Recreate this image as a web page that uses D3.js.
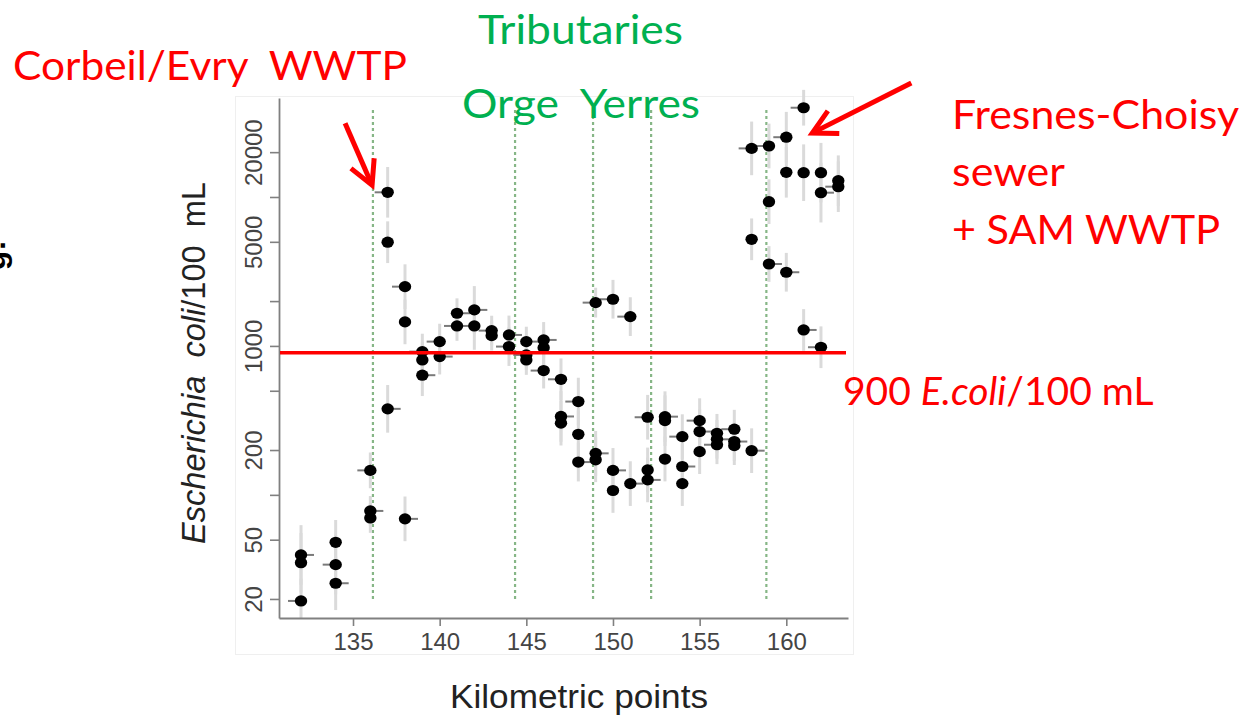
<!DOCTYPE html>
<meta charset="utf-8">
<style>
  body { margin: 0; background: #fff; }
  svg { display: block; }
  text { white-space: pre; }
</style>
<body>
<script src="https://cdn.jsdelivr.net/npm/d3@7"></script>
<script>

    // sampling points along the river (kilometric point)
    var km = [132, 132, 132, 134, 134, 134, 136, 136, 136, 137, 137, 137,
        138, 138, 138, 139, 139, 139, 140, 140, 141, 141, 142, 142,
        143, 143, 144, 144, 145, 145, 145, 146, 146, 146, 147, 147, 147,
        148, 148, 148, 149, 149, 149, 150, 150, 150, 151, 151,
        152, 152, 152, 153, 153, 153, 154, 154, 154, 155, 155, 155,
        156, 156, 156, 157, 157, 157, 158, 158, 158, 159, 159, 159,
        160, 160, 160, 161, 161, 161, 162, 162, 162, 163, 163];

    // E. coli / 100 mL
    var ecoli = [39.5, 35, 19.4, 48, 34, 25.5, 146, 78, 70, 10750, 4970, 378,
        2500, 1450, 69, 916, 805, 636, 1069, 848, 1657, 1362, 1745, 1362,
        1267, 1172, 1185, 990, 1069, 870, 805, 1097, 974, 683, 597, 336, 303,
        423, 255, 166, 1953, 190, 172, 2058, 146, 107, 1573, 119,
        332, 147, 126, 335, 315, 174, 246, 155, 119, 315, 266, 195,
        259, 236, 217, 276, 228, 214, 21200, 5200, 198, 22000, 9300, 3550,
        25200, 14650, 3124, 39750, 14560, 1280, 14560, 10690, 980, 12860, 11730];

    // half length of the grey bars (log10 units)
    var spread = [0.2, 0.2, 0.15, 0.15, 0.2, 0.18, 0.12, 0.1, 0.1, 0.17, 0.14, 0.16,
        0.15, 0.15, 0.15, 0.12, 0.12, 0.14, 0.12, 0.12, 0.1, 0.1, 0.16, 0.16,
        0.1, 0.1, 0.13, 0.13, 0.1, 0.1, 0.1, 0.12, 0.12, 0.12, 0.14, 0.17, 0.15,
        0.16, 0.16, 0.13, 0.1, 0.15, 0.15, 0.13, 0.15, 0.15, 0.13, 0.15,
        0.15, 0.15, 0.15, 0.17, 0.17, 0.15, 0.15, 0.15, 0.15, 0.15, 0.15, 0.15,
        0.13, 0.13, 0.13, 0.13, 0.13, 0.13, 0.18, 0.14, 0.15, 0.15, 0.15, 0.12,
        0.17, 0.17, 0.13, 0.12, 0.19, 0.14, 0.2, 0.2, 0.14, 0.17, 0.17];

    // side of the small horizontal dash (-1 left, 1 right, 0 none)
    var side = [1, 0, -1, 0, -1, 1, -1, 1, 0, -1, 0, 1,
        -1, 0, 1, -1, 0, 1, -1, 1, 1, -1, 1, -1,
        -1, 0, 1, -1, 1, -1, 0, 1, 0, -1, -1, 1, 0,
        -1, 0, 1, -1, 1, 0, -1, 1, 0, -1, 1,
        -1, 0, 1, 1, 0, 0, -1, 1, 0, -1, 1, 0,
        0, 1, -1, -1, 1, 0, -1, 0, 1, -1, 0, 1,
        -1, 0, 1, -1, 0, 1, 0, 1, -1, 0, -1];

    var yTicks = [20, 50, 100, 200, 500, 1000, 2000, 5000, 10000, 20000];
    var yLabels = [20, 50, 200, 1000, 5000, 20000];
    var xTicks = [135, 140, 145, 150, 155, 160];
    var tributaries = [136.15, 144.35, 148.85, 152.2, 158.85];
    var threshold = 900;

    var width = 1256, height = 718;
    var plot = {left: 279, right: 848, top: 98, bottom: 618};

    var x = d3.scaleLinear().domain([130.73, 163.56]).range([plot.left, plot.right]);
    var y = d3.scaleLog().domain([14.9, 46200]).range([plot.bottom, plot.top]);

    var svg = d3.select("body").append("svg")
        .attr("width", width)
        .attr("height", height);

    // faint frame of the pasted figure
    svg.append("rect")
        .attr("x", 235.5).attr("y", 96.5)
        .attr("width", 618).attr("height", 558)
        .attr("fill", "none")
        .attr("stroke", "#efefef");

    // tributary / outfall positions
    svg.selectAll(".trib")
        .data(tributaries)
        .enter().append("line")
        .attr("x1", function (d) { return x(d); })
        .attr("x2", function (d) { return x(d); })
        .attr("y1", y(20))
        .attr("y2", y(40000))
        .attr("stroke", "#86b686")
        .attr("stroke-width", 2.2)
        .attr("stroke-dasharray", "3,3");

    var pts = km.map(function (k, i) {
        return {km: k, v: ecoli[i], s: spread[i], side: side[i]};
    });

    // grey bars
    svg.selectAll(".bar")
        .data(pts)
        .enter().append("line")
        .attr("x1", function (d) { return x(d.km); })
        .attr("x2", function (d) { return x(d.km); })
        .attr("y1", function (d) { return Math.min(plot.bottom, y(d.v / Math.pow(10, d.s))); })
        .attr("y2", function (d) { return y(d.v * Math.pow(10, d.s)); })
        .attr("stroke", "#dadada")
        .attr("stroke-width", 3);

    // little dashes
    svg.selectAll(".dash")
        .data(pts.filter(function (d) { return d.side != 0; }))
        .enter().append("line")
        .attr("x1", function (d) { return x(d.km); })
        .attr("x2", function (d) { return x(d.km) + d.side * 13; })
        .attr("y1", function (d) { return y(d.v); })
        .attr("y2", function (d) { return y(d.v); })
        .attr("stroke", "#7a7a7a")
        .attr("stroke-width", 2);

    svg.selectAll(".dot")
        .data(pts)
        .enter().append("ellipse")
        .attr("cx", function (d) { return x(d.km); })
        .attr("cy", function (d) { return y(d.v); })
        .attr("rx", 6.2)
        .attr("ry", 5.6)
        .attr("fill", "#000");

    // axes
    var yAxis = svg.append("g")
        .attr("transform", "translate(" + plot.left + ",0)")
        .call(d3.axisLeft(y).tickValues(yTicks).tickSize(9).tickSizeOuter(0)
            .tickFormat(function (d) { return yLabels.indexOf(d) >= 0 ? d : ""; }));
    yAxis.selectAll("text")
        .attr("x", null).attr("dy", null)
        .attr("text-anchor", "middle")
        .attr("transform", "translate(-17,0) rotate(-90)");

    var xAxis = svg.append("g")
        .attr("transform", "translate(0," + plot.bottom + ")")
        .call(d3.axisBottom(x).tickValues(xTicks).tickSize(8).tickPadding(7).tickSizeOuter(0));

    [yAxis, xAxis].forEach(function (g) {
        g.select(".domain").attr("stroke", "#808080").attr("stroke-width", 1.8);
        g.selectAll(".tick line").attr("stroke", "#808080").attr("stroke-width", 1.6);
        g.selectAll("text")
            .attr("fill", "#444")
            .style("font-family", "'Liberation Sans', Arial, sans-serif")
            .style("font-size", "24px");
    });

    // axis titles
    svg.append("text")
        .attr("x", 579).attr("y", 708)
        .attr("text-anchor", "middle")
        .attr("textLength", 258)
        .attr("lengthAdjust", "spacingAndGlyphs")
        .style("font-family", "'Liberation Sans', Arial, sans-serif")
        .style("font-size", "34px")
        .attr("fill", "#222")
        .text("Kilometric points");

    var yt = svg.append("text")
        .attr("transform", "translate(205,363) rotate(-90)")
        .attr("text-anchor", "middle")
        .attr("textLength", 362)
        .attr("lengthAdjust", "spacingAndGlyphs")
        .style("font-family", "'Liberation Sans', Arial, sans-serif")
        .style("font-size", "34px")
        .attr("fill", "#222");
    yt.append("tspan").style("font-style", "italic").text("Escherichia  coli");
    yt.append("tspan").text("/100  mL");

    // cut-off slide text on the far left
    svg.append("text")
        .attr("transform", "translate(5,240) rotate(-90)")
        .attr("text-anchor", "end")
        .style("font-family", "'Liberation Sans', Arial, sans-serif")
        .style("font-weight", "bold")
        .style("font-size", "32px")
        .attr("fill", "#000")
        .text("g:");

    // threshold
    svg.append("line")
        .attr("x1", x.range()[0] + 1).attr("x2", x.range()[1] - 2)
        .attr("y1", y(threshold)).attr("y2", y(threshold))
        .attr("stroke", "#ff0000")
        .attr("stroke-width", 3.5);

    // arrows: tip in data units, tail as an offset
    function arrow(tipKm, tipV, dx, dy) {
        var tx = x(tipKm), ty = y(tipV);
        var a = Math.atan2(dy, dx), len = 27, w = 28 * Math.PI / 180;
        svg.append("line")
            .attr("x1", tx + dx).attr("y1", ty + dy)
            .attr("x2", tx + Math.cos(a) * 3).attr("y2", ty + Math.sin(a) * 3)
            .attr("stroke", "#ff0000").attr("stroke-width", 5);
        svg.append("path")
            .attr("d", "M" + (tx + len * Math.cos(a - w)) + "," + (ty + len * Math.sin(a - w)) +
                "L" + tx + "," + ty +
                "L" + (tx + len * Math.cos(a + w)) + "," + (ty + len * Math.sin(a + w)))
            .attr("fill", "none")
            .attr("stroke", "#ff0000").attr("stroke-width", 5)
            .attr("stroke-linejoin", "miter");
    }
    arrow(136.1, 12000, -27, -62);
    arrow(161.5, 26900, 99, -50);

    // annotations
    function note(txt, x0, y0, len, color) {
        return svg.append("text")
            .attr("x", x0).attr("y", y0)
            .attr("textLength", len)
            .attr("lengthAdjust", "spacingAndGlyphs")
            .style("font-family", "Lato, 'Open Sans', sans-serif")
            .style("font-size", "41px")
            .attr("fill", color)
            .text(txt);
    }
    note("Corbeil/Evry  WWTP", 13, 80, 394, "#ff0000");
    note("Tributaries", 478, 44, 205, "#00b050");
    note("Orge  Yerres", 462, 118, 238, "#00b050");
    note("Fresnes-Choisy", 952, 129, 287, "#ff0000");
    note("sewer", 952, 186, 113, "#ff0000");
    note("+ SAM WWTP", 952, 244, 268, "#ff0000");

    var lim = svg.append("text")
        .attr("x", 843).attr("y", 405)
        .style("font-family", "Lato, 'Open Sans', sans-serif")
        .style("font-size", "39px")
        .attr("fill", "#ff0000");
    lim.append("tspan").text("900 ");
    lim.append("tspan").style("font-style", "italic").text("E.coli");
    lim.append("tspan").text("/100 mL");

</script>
</body>
